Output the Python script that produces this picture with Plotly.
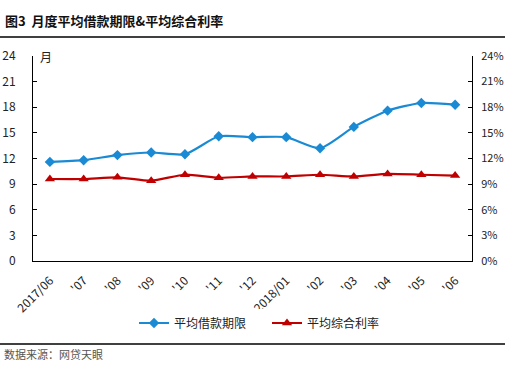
import plotly.graph_objects as go

categories = ["2017/06", "'07", "'08", "'09", "'10", "'11", "'12", "2018/01", "'02", "'03", "'04", "'05", "'06"]
term_months = [11.6, 11.8, 12.4, 12.7, 12.5, 14.6, 14.5, 14.5, 13.2, 15.7, 17.6, 18.5, 18.3]
rate_pct = [0.096, 0.096, 0.098, 0.094, 0.101, 0.0975, 0.099, 0.099, 0.101, 0.099, 0.102, 0.101, 0.100]
left_ticks = [0, 3, 6, 9, 12, 15, 18, 21, 24]
right_ticks = [0, 0.03, 0.06, 0.09, 0.12, 0.15, 0.18, 0.21, 0.24]

BLUE = "#1a8ad4"
RED = "#c00000"
FONT = "Noto Sans CJK SC"
PW, PH = 439, 205

fig = go.Figure()
fig.add_trace(go.Scatter(
    x=list(range(len(categories))), y=term_months, name="平均借款期限",
    mode="lines+markers", line=dict(color=BLUE, width=2.2, shape="spline", smoothing=0.6),
    marker=dict(symbol="diamond", size=8, color=BLUE), yaxis="y"))
fig.add_trace(go.Scatter(
    x=list(range(len(categories))), y=rate_pct, name="平均综合利率",
    mode="lines+markers", line=dict(color=RED, width=2.2, shape="spline", smoothing=0.6),
    marker=dict(symbol="triangle-up", size=9, color=RED), yaxis="y2"))

fig.update_layout(
    width=505, height=365,
    margin=dict(l=33, r=33, t=56, b=104, autoexpand=False),
    plot_bgcolor="white", paper_bgcolor="white",
    font=dict(family=FONT, size=12, color="#222"),
    xaxis=dict(range=[-0.5, 12.5], tickmode="array", tickvals=list(range(len(categories))),
               ticktext=categories, tickangle=-45, showline=True, linecolor="black",
               linewidth=1, ticks="", showgrid=False, zeroline=False, automargin=False,
               ticklabelstandoff=7, tickfont=dict(size=12, color="#222")),
    yaxis=dict(range=[0, 24], tickvals=left_ticks, showline=True, linecolor="black",
               linewidth=1, ticks="inside", ticklen=4, tickcolor="black", showgrid=False,
               zeroline=False, automargin=False, ticklabelstandoff=14,
               tickfont=dict(size=12, color="#222")),
    yaxis2=dict(range=[0, 0.24], tickvals=right_ticks, tickformat=".0%", overlaying="y",
                side="right", showline=True, linecolor="black", linewidth=1,
                ticks="inside", ticklen=4, tickcolor="black", showgrid=False,
                zeroline=False, automargin=False, ticklabelstandoff=6,
                tickfont=dict(size=11, color="#222")),
    legend=dict(orientation="h", x=(267 - 33) / PW, xanchor="center", y=-62/PH, yanchor="middle",
                font=dict(size=12, color="#222"), itemwidth=30, entrywidth=88,
                entrywidthmode="pixels", tracegroupgap=0),
    showlegend=True,
    annotations=[
        dict(text="<b>图3  月度平均借款期限&平均综合利率</b>", xref="paper", yref="paper",
             x=-30/PW, y=1 + 36/PH, xanchor="left", yanchor="middle", showarrow=False,
             font=dict(size=13, color="#111")),
        dict(text="月", xref="paper", yref="paper", x=0, y=1.0, xanchor="left", yanchor="middle",
             xshift=5, showarrow=False, font=dict(size=12, color="#222")),
        dict(text="数据来源：网贷天眼", xref="paper", yref="paper", x=-31/PW, y=-93/PH,
             xanchor="left", yanchor="middle", showarrow=False,
             font=dict(size=11, color="#555")),
    ],
    shapes=[
        dict(type="line", xref="paper", yref="paper", x0=-33/PW, x1=472/PW, y0=1 + 19/PH, y1=1 + 19/PH,
             line=dict(color="black", width=1.5)),
        dict(type="line", xref="paper", yref="paper", x0=-33/PW, x1=472/PW, y0=-83/PH, y1=-83/PH,
             line=dict(color="black", width=1.5)),
    ],
)
fig.write_html("out.html", config={"displayModeBar": False},
               post_script="document.body.style.margin='0';document.body.style.overflow='hidden';")
